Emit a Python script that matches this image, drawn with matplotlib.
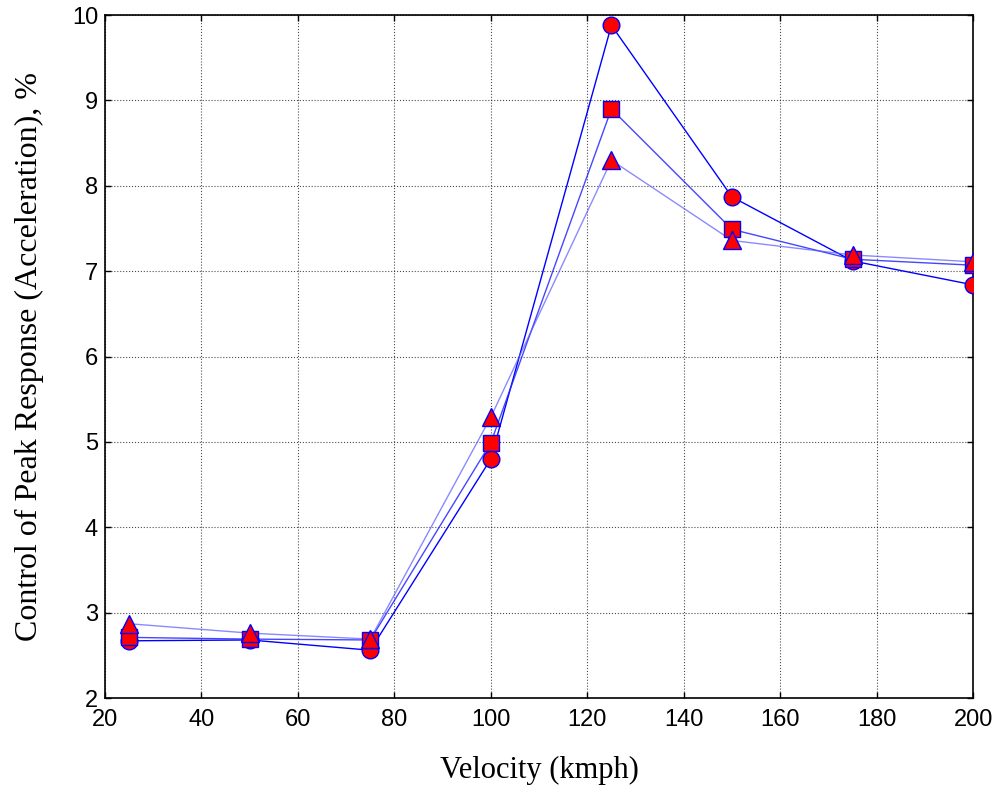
import matplotlib
matplotlib.use("Agg")
import matplotlib.pyplot as plt

velocity = [25, 50, 75, 100, 125, 150, 175, 200]
series_circle = [2.67, 2.68, 2.56, 4.80, 9.88, 7.87, 7.12, 6.84]
series_square = [2.71, 2.69, 2.68, 4.99, 8.90, 7.49, 7.14, 7.07]
series_triangle = [2.87, 2.76, 2.69, 5.29, 8.30, 7.36, 7.19, 7.11]

x_ticks = [20, 40, 60, 80, 100, 120, 140, 160, 180, 200]
y_ticks = [2, 3, 4, 5, 6, 7, 8, 9, 10]

fig = plt.figure(figsize=(10.03, 7.99), dpi=100)
ax = fig.add_axes([0.1047, 0.1264, 0.8655, 0.8547])

styles = [
    (series_circle, 'o', (0.0, 0.0, 1.0, 1.0), 12),
    (series_square, 's', (0.15, 0.15, 1.0, 0.85), 11.5),
    (series_triangle, '^', (0.35, 0.35, 1.0, 0.7), 13),
]
for vals, mk, lc, ms in styles:
    ax.plot(velocity, vals, color=lc, lw=1.0, zorder=2)
for vals, mk, lc, ms in styles:
    ax.plot(velocity, vals, linestyle='none', marker=mk, markersize=ms,
            markerfacecolor='red', markeredgecolor='blue', markeredgewidth=1.0, zorder=3)

ax.set_xlim(20, 200)
ax.set_ylim(2, 10)
ax.set_xticks(x_ticks)
ax.set_yticks(y_ticks)
ax.grid(True, linestyle=':', color='black', linewidth=0.8, alpha=0.7)
ax.tick_params(direction='in', top=True, right=True, length=4, width=1,
               labelsize=17)
ax.tick_params(axis='x', pad=8)
ax.tick_params(axis='y', pad=5)
for lab in ax.get_xticklabels() + ax.get_yticklabels():
    lab.set_fontfamily('Liberation Sans')
for sp in ax.spines.values():
    sp.set_linewidth(1.2)

ax.set_xlabel('Velocity (kmph)', fontfamily='Liberation Serif', fontsize=22, labelpad=18)
ax.set_ylabel('Control of Peak Response (Acceleration), %', fontfamily='Liberation Serif',
              fontsize=23, labelpad=20)

fig.savefig('out.png', dpi=100)
